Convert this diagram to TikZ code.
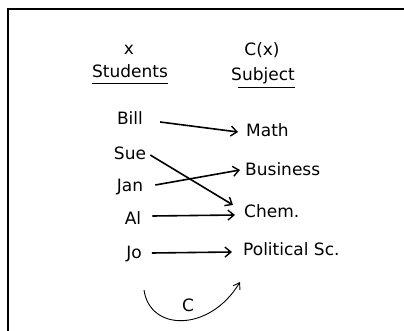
\documentclass[tikz,border=0pt]{standalone}
\usepackage{fontspec}
\setmainfont{DejaVu Sans}
\usetikzlibrary{arrows.meta}

\begin{document}
\begin{tikzpicture}[
  x=1pt, y=-1pt,
  lbl/.style={font=\fontsize{17}{20}\selectfont, inner sep=0pt},
  arr/.style={line width=1.6pt, -{Straight Barb[length=6pt, width=10pt, line width=1.4pt]}},
  uline/.style={line width=1.8pt},
]
\useasboundingbox (0,0) rectangle (404,331);
\clip (0,0) rectangle (404,331);

% Frame
\draw[line width=2pt] (7.5,340) -- (7.5,9) -- (410,9);

% Header
\node[lbl, anchor=base] (x) at (129,55) {x};
\node[lbl, anchor=base] (students) at (130,78) {Students};
\draw[uline] ([yshift=-5.5pt]students.base west) -- ([yshift=-5.5pt]students.base east);
\node[lbl, anchor=base] (cx) at (262,56) {C(x)};
\node[lbl, anchor=base] (subject) at (263,81) {Subject};
\draw[uline] ([xshift=7pt,yshift=-6.5pt]subject.base west) -- ([yshift=-6.5pt]subject.base east);

% Students
\node[lbl, anchor=base] (bill) at (130,125) {Bill};
\node[lbl, anchor=base] (sue) at (130,160) {Sue};
\node[lbl, anchor=base] (jan) at (130,192) {Jan};
\node[lbl, anchor=base] (al) at (133,225) {Al};
\node[lbl, anchor=base] (jo) at (134,258) {Jo};

% Subjects
\node[lbl, anchor=base west] (math) at (246,137) {Math};
\node[lbl, anchor=base west] (business) at (245,176) {Business};
\node[lbl, anchor=base west] (chem) at (244,218) {Chem.};
\node[lbl, anchor=base west] (polsc) at (243,255) {Political Sc.};

% Mapping
\draw[arr] ([shift={(17,-3)}]bill.base east) -- ([shift={(-8,-5)}]math.base west);
\draw[arr] ([shift={(4,-5)}]sue.base east) -- ([shift={(-11,-13)}]chem.base west);
\draw[arr] ([shift={(12,-7)}]jan.base east) -- ([shift={(-5,-6)}]business.base west);
\draw[arr] ([shift={(11,-9)}]al.base east) -- ([shift={(-9,-3)}]chem.base west);
\draw[arr] ([shift={(10,-5)}]jo.base east) -- ([shift={(-11,-3)}]polsc.base west);

% Function C
\coordinate (cstart) at (144,290);
\coordinate (cend) at (240,282);
\draw[line width=0.9pt, -{Straight Barb[length=6pt, width=8pt]}] (cstart) .. controls (150,332) and (210,332) .. (cend);
\node[lbl, anchor=base] (c) at (188,311) {C};
\end{tikzpicture}
\end{document}
